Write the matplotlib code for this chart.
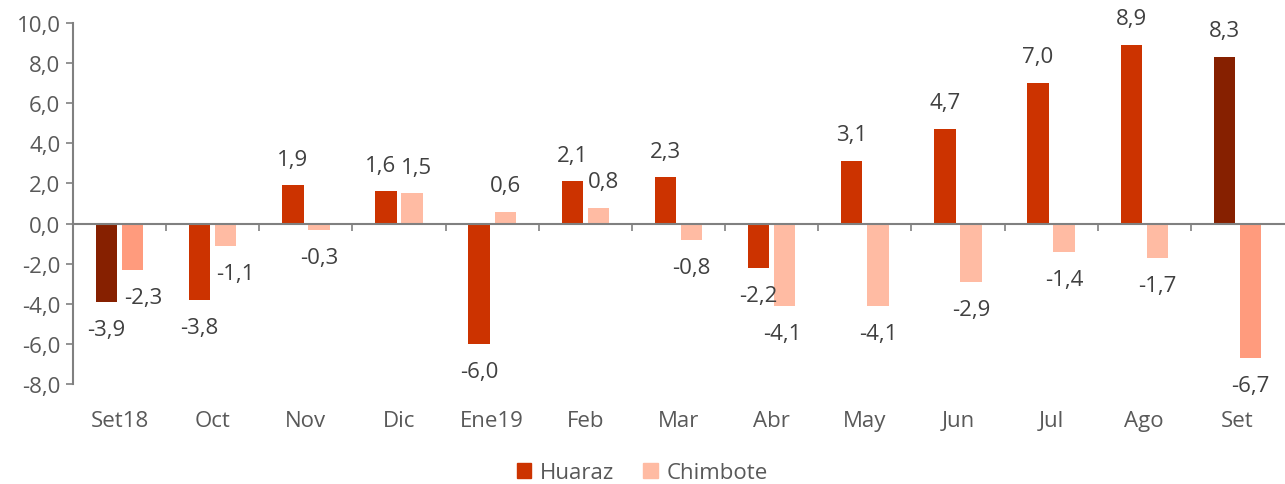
import numpy as np
import matplotlib
matplotlib.use('Agg')
import matplotlib.pyplot as plt
from matplotlib.ticker import FuncFormatter, FixedLocator
from matplotlib.patches import Patch
import matplotlib.transforms as mtransforms

plt.rcParams['font.family'] = ['Open Sans', 'DejaVu Sans']

meses = ['Set18', 'Oct', 'Nov', 'Dic', 'Ene19', 'Feb', 'Mar', 'Abr', 'May', 'Jun', 'Jul', 'Ago', 'Set']
huaraz = [-3.9, -3.8, 1.9, 1.6, -6.0, 2.1, 2.3, -2.2, 3.1, 4.7, 7.0, 8.9, 8.3]
chimbote = [-2.3, -1.1, -0.3, 1.5, 0.6, 0.8, -0.8, -4.1, -4.1, -2.9, -1.4, -1.7, -6.7]

rojo = '#CC3300'
rojo_osc = '#862000'
salmon = '#FFBBA3'
salmon_osc = '#FF9B7D'
gris_txt = '#595959'
gris_eje = '#808080'

col_h = [rojo] * len(meses)
col_h[0] = col_h[-1] = rojo_osc
col_c = [salmon] * len(meses)
col_c[0] = col_c[-1] = salmon_osc

fig = plt.figure(figsize=(12.85, 4.85), dpi=100)
ax = fig.add_axes([73 / 1285, 1 - 385 / 485, (1284 - 73) / 1285, 361 / 485])

x = np.arange(len(meses))
w = 0.23
off = 0.14
ax.bar(x - off, huaraz, w, color=col_h, zorder=2)
ax.bar(x + off, chimbote, w, color=col_c, zorder=2)

fmt = lambda v: f'{v:.1f}'.replace('.', ',')

# small sideways nudges (points) so neighbouring labels don't collide
shift_h = [0, 0, 0, -4, 0, 0, 0, 0, 0, 0, 0, 0, 0]
shift_c = [8, 7, 0, 3, 0, 4, 0, -2, 0, 0, 0, 0, 0]
for xs, vals, dxs in ((x - off, huaraz, shift_h), (x + off, chimbote, shift_c)):
    for xi, v, dx in zip(xs, vals, dxs):
        dy = 19 if v >= 0 else -20
        ax.annotate(fmt(v), (xi, v), xytext=(dx, dy), textcoords='offset points',
                    ha='center', va='center', fontsize=16, color='#404040')

ax.set_xlim(-0.5, len(meses) - 0.5)
ax.set_ylim(-8, 10)
ax.set_yticks(np.arange(-8, 10.1, 2))
ax.yaxis.set_major_formatter(FuncFormatter(lambda v, p: fmt(v)))
ax.tick_params(axis='y', labelsize=16, labelcolor=gris_txt, color=gris_eje, length=5, width=1.2, pad=4)

ax.spines['top'].set_visible(False)
ax.spines['right'].set_visible(False)
ax.spines['left'].set_color(gris_eje)
ax.spines['left'].set_linewidth(1.5)
ax.spines['bottom'].set_position(('data', 0))
ax.spines['bottom'].set_color(gris_eje)
ax.spines['bottom'].set_linewidth(1.5)
ax.spines['bottom'].set_zorder(3)

ax.xaxis.set_major_locator(FixedLocator(np.arange(0.5, len(meses) - 0.5, 1)))
ax.tick_params(axis='x', labelbottom=False, color=gris_eje, length=5, width=1.2)

trans = mtransforms.blended_transform_factory(ax.transData, ax.transAxes)
for xi, m in zip(x, meses):
    ax.text(xi, -0.1, m, transform=trans, ha='center', va='center', fontsize=16, color=gris_txt)

handles = [Patch(color=rojo), Patch(color=salmon)]
fig.legend(handles, ['Huaraz', 'Chimbote'], loc='center', bbox_to_anchor=(0.5, 1 - 474 / 485),
           ncol=2, frameon=False, fontsize=16, handlelength=0.65, handleheight=0.65,
           handletextpad=0.4, columnspacing=1.3, labelcolor=gris_txt)

fig.savefig('out.png', dpi=100)
